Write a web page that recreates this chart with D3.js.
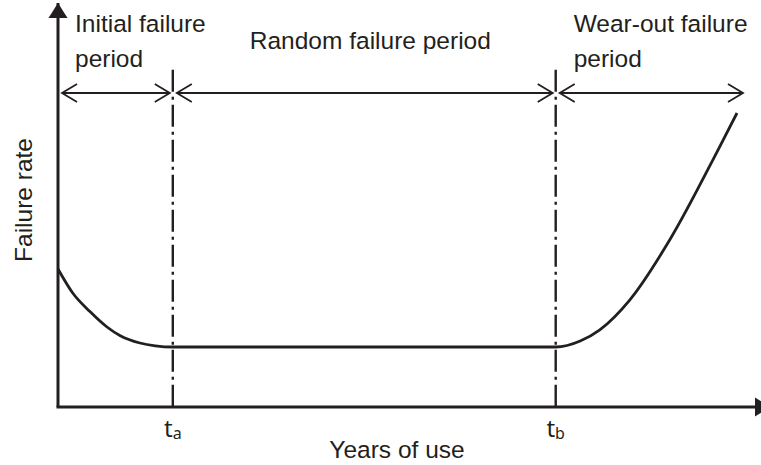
<!DOCTYPE html>
<html>
<head>
<meta charset="utf-8">
<script src="https://cdn.jsdelivr.net/npm/d3@7"></script>
<style>
  body { margin: 0; background: #fff; }
  text { font-family: "Liberation Sans", Arial, sans-serif; fill: #231f20; }
</style>
</head>
<body>
<div id="chart"></div>
<script>
// Data (arbitrary units)
const curveYears = [0, 0.21, 0.46, 0.70, 0.89, 1.17, 1.39, 1.64, 7.11, 7.46, 7.74, 8.17, 8.74, 9.43, 9.70]
const curveRate  = [3.45, 2.85, 2.38, 2.0, 1.78, 1.6, 1.53, 1.5, 1.5, 1.65, 1.93, 2.68, 4.18, 6.43, 7.35]

const ta = 1.64   // end of initial failure period
const tb = 7.11   // end of random failure period
const tEnd = 9.7  // end of wear-out arrow

const boundaryNames = ['a', 'b']
const boundaryYears = [ta, tb]

const periodNames = [['Initial failure', 'period'], ['Random failure period'], ['Wear-out failure', 'period']]
const periodStart = [0, ta, tb]
const periodEnd = [ta, tb, tEnd]

const xTitle = 'Years of use'
const yTitle = 'Failure rate'

// Dimensions
const width = 761, height = 465
const ink = '#231f20'

const svg = d3.select('#chart')
  .append('svg')
  .attr('width', width)
  .attr('height', height)

// scales
const x = d3.scaleLinear().domain([0, 10]).range([58, 758])
const y = d3.scaleLinear().domain([0, 10]).range([407, 7])

// markers
const defs = svg.append('defs')
defs.append('marker')
  .attr('id', 'solid')
  .attr('markerUnits', 'userSpaceOnUse')
  .attr('viewBox', '-20 -10 22 20')
  .attr('markerWidth', 22).attr('markerHeight', 20)
  .attr('refX', 0).attr('refY', 0)
  .attr('orient', 'auto')
  .append('path')
  .attr('d', 'M-15,-9.5L0,0L-15,9.5Z')
  .attr('fill', ink)

defs.append('marker')
  .attr('id', 'open')
  .attr('markerUnits', 'userSpaceOnUse')
  .attr('viewBox', '-20 -12 24 24')
  .attr('markerWidth', 24).attr('markerHeight', 24)
  .attr('refX', 0).attr('refY', 0)
  .attr('orient', 'auto-start-reverse')
  .append('path')
  .attr('d', 'M-15,-9L0,0L-15,9')
  .attr('fill', 'none')
  .attr('stroke', ink)
  .attr('stroke-width', 1.8)

// axes (plain arrows, no ticks)
svg.append('line')
  .attr('x1', x(0)).attr('y1', y(0))
  .attr('x2', x(0)).attr('y2', y(10) - 4)
  .attr('stroke', ink).attr('stroke-width', 3)
  .attr('marker-end', 'url(#solid)')

svg.append('line')
  .attr('x1', x(0) - 1.5).attr('y1', y(0))
  .attr('x2', x(10) + 12).attr('y2', y(0))
  .attr('stroke', ink).attr('stroke-width', 3)
  .attr('marker-end', 'url(#solid)')

// boundaries ta, tb
const bounds = svg.append('g')
bounds.selectAll('line')
  .data(boundaryYears)
  .join('line')
  .attr('x1', d => x(d)).attr('x2', d => x(d))
  .attr('y1', y(8.43)).attr('y2', y(0))
  .attr('stroke', ink).attr('stroke-width', 2.4)
  .attr('stroke-dasharray', '22,5,3,5')

const tl = bounds.selectAll('text')
  .data(boundaryYears)
  .join('text')
  .attr('x', d => x(d))
  .attr('y', 437)
  .attr('text-anchor', 'middle')
  .style('font-family', '"Noto Sans", sans-serif')
  .style('font-size', '24px')
tl.append('tspan').text('t')
tl.append('tspan')
  .attr('dy', 2)
  .style('font-size', '16px')
  .text((d, i) => boundaryNames[i])

// curve
const line = d3.line()
  .x(d => x(d[0]))
  .y(d => y(d[1]))
  .curve(d3.curveMonotoneX)

svg.append('path')
  .datum(d3.zip(curveYears, curveRate))
  .attr('d', line)
  .attr('fill', 'none')
  .attr('stroke', ink)
  .attr('stroke-width', 2.8)

// period arrows
const arrowY = 93
svg.append('g')
  .selectAll('line')
  .data(periodStart)
  .join('line')
  .attr('x1', d => x(d) + 4)
  .attr('x2', (d, i) => i === 2 ? x(periodEnd[i]) + 6 : x(periodEnd[i]) - 3)
  .attr('y1', arrowY).attr('y2', arrowY)
  .attr('stroke', ink).attr('stroke-width', 1.8)
  .attr('marker-start', 'url(#open)')
  .attr('marker-end', 'url(#open)')

// period labels
const labelDx = [17, 77, 18]
svg.append('g')
  .selectAll('text')
  .data(periodNames)
  .join('text')
  .attr('x', (d, i) => x(periodStart[i]) + labelDx[i])
  .attr('y', d => d.length > 1 ? 32 : 49)
  .style('font-size', '24.5px')
  .selectAll('tspan')
  .data(d => d)
  .join('tspan')
  .attr('x', function() { return this.parentNode.getAttribute('x') })
  .attr('dy', (d, i) => i ? 35 : 0)
  .text(d => d)

// axis titles
svg.append('text')
  .attr('x', 397).attr('y', 458)
  .attr('text-anchor', 'middle')
  .style('font-size', '24.5px')
  .text(xTitle)

svg.append('text')
  .attr('transform', 'translate(32,200) rotate(-90)')
  .attr('text-anchor', 'middle')
  .style('font-size', '24.5px')
  .text(yTitle)
</script>
</body>
</html>
